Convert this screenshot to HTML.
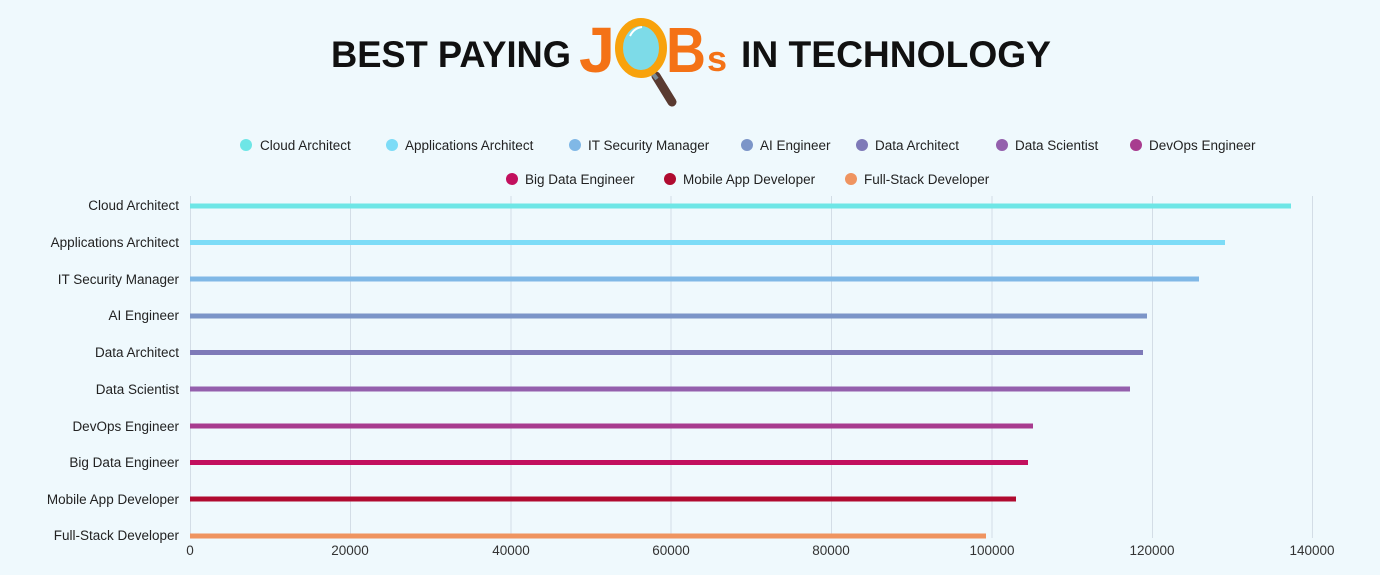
<!DOCTYPE html>
<html><head><meta charset="utf-8"><style>
html,body{margin:0;padding:0;background:#eff9fd;}
svg{display:block;font-family:"Liberation Sans",sans-serif;}
</style></head><body>
<svg width="1380" height="575" viewBox="0 0 1380 575" xmlns="http://www.w3.org/2000/svg">
<rect width="1380" height="575" fill="#eff9fd"/>
<!-- title -->
<g font-weight="bold" font-size="37" fill="#111">
<text x="331" y="67" textLength="240" lengthAdjust="spacingAndGlyphs">BEST PAYING</text>
<text x="741" y="67" textLength="310" lengthAdjust="spacingAndGlyphs">IN TECHNOLOGY</text>
</g>
<text x="579" y="72" font-weight="bold" font-size="64" fill="#f47216" textLength="36" lengthAdjust="spacingAndGlyphs">J</text>
<line x1="656" y1="76" x2="672" y2="102" stroke="#5a3a30" stroke-width="9" stroke-linecap="round"/>
<line x1="650" y1="70" x2="657" y2="79" stroke="#7a8a96" stroke-width="4"/>
<ellipse cx="641" cy="48" rx="22" ry="26" fill="#7ddbe8" stroke="#f8a20c" stroke-width="8"/>
<path d="M630 36 q4 -8 12 -9" stroke="#fff" stroke-width="2" fill="none"/>
<text x="666" y="72" font-weight="bold" font-size="64" fill="#f47216" textLength="40" lengthAdjust="spacingAndGlyphs">B</text>
<text x="707" y="71" font-weight="bold" font-size="36" fill="#f47216">s</text>
<!-- legend -->
<g font-size="13.5" fill="#222">
<circle cx="246" cy="145" r="6" fill="#6ee6e6"/><text x="260" y="150">Cloud Architect</text>
<circle cx="392" cy="145" r="6" fill="#7ddcf7"/><text x="405" y="150">Applications Architect</text>
<circle cx="575" cy="145" r="6" fill="#80b8e6"/><text x="588" y="150">IT Security Manager</text>
<circle cx="747" cy="145" r="6" fill="#7c95c8"/><text x="760" y="150">AI Engineer</text>
<circle cx="862" cy="145" r="6" fill="#7e7ab8"/><text x="875" y="150">Data Architect</text>
<circle cx="1002" cy="145" r="6" fill="#9460ad"/><text x="1015" y="150">Data Scientist</text>
<circle cx="1136" cy="145" r="6" fill="#a83c8f"/><text x="1149" y="150">DevOps Engineer</text>
<circle cx="512" cy="179" r="6" fill="#c2105e"/><text x="525" y="184">Big Data Engineer</text>
<circle cx="670" cy="179" r="6" fill="#b00b30"/><text x="683" y="184">Mobile App Developer</text>
<circle cx="851" cy="179" r="6" fill="#ef9460"/><text x="864" y="184">Full-Stack Developer</text>
</g>
<!-- grid -->
<g stroke="#d3dde6" stroke-width="1">
<line x1="190.5" y1="196" x2="190.5" y2="538"/>
<line x1="350.5" y1="196" x2="350.5" y2="538"/>
<line x1="511" y1="196" x2="511" y2="538"/>
<line x1="671" y1="196" x2="671" y2="538"/>
<line x1="831.5" y1="196" x2="831.5" y2="538"/>
<line x1="992" y1="196" x2="992" y2="538"/>
<line x1="1152.5" y1="196" x2="1152.5" y2="538"/>
<line x1="1312.5" y1="196" x2="1312.5" y2="538"/>
</g>
<!-- bars -->
<g stroke-width="5">
<line x1="190" y1="206" x2="1291" y2="206" stroke="#6ee6e6"/>
<line x1="190" y1="242.5" x2="1225" y2="242.5" stroke="#7ddcf7"/>
<line x1="190" y1="279" x2="1199" y2="279" stroke="#80b8e6"/>
<line x1="190" y1="316" x2="1147" y2="316" stroke="#7c95c8"/>
<line x1="190" y1="352.5" x2="1143" y2="352.5" stroke="#7e7ab8"/>
<line x1="190" y1="389" x2="1130" y2="389" stroke="#9460ad"/>
<line x1="190" y1="426" x2="1033" y2="426" stroke="#a83c8f"/>
<line x1="190" y1="462.5" x2="1028" y2="462.5" stroke="#c2105e"/>
<line x1="190" y1="499" x2="1016" y2="499" stroke="#b00b30"/>
<line x1="190" y1="536" x2="986" y2="536" stroke="#ef9460"/>
</g>
<!-- y labels -->
<g font-size="13.5" fill="#222" text-anchor="end">
<text x="179" y="210">Cloud Architect</text>
<text x="179" y="247">Applications Architect</text>
<text x="179" y="284">IT Security Manager</text>
<text x="179" y="320">AI Engineer</text>
<text x="179" y="357">Data Architect</text>
<text x="179" y="394">Data Scientist</text>
<text x="179" y="431">DevOps Engineer</text>
<text x="179" y="467">Big Data Engineer</text>
<text x="179" y="504">Mobile App Developer</text>
<text x="179" y="540">Full-Stack Developer</text>
</g>
<!-- x labels -->
<g font-size="13.5" fill="#333" text-anchor="middle">
<text x="190" y="555">0</text>
<text x="350" y="555">20000</text>
<text x="511" y="555">40000</text>
<text x="671" y="555">60000</text>
<text x="831" y="555">80000</text>
<text x="992" y="555">100000</text>
<text x="1152" y="555">120000</text>
<text x="1312" y="555">140000</text>
</g>
</svg>
</body></html>
